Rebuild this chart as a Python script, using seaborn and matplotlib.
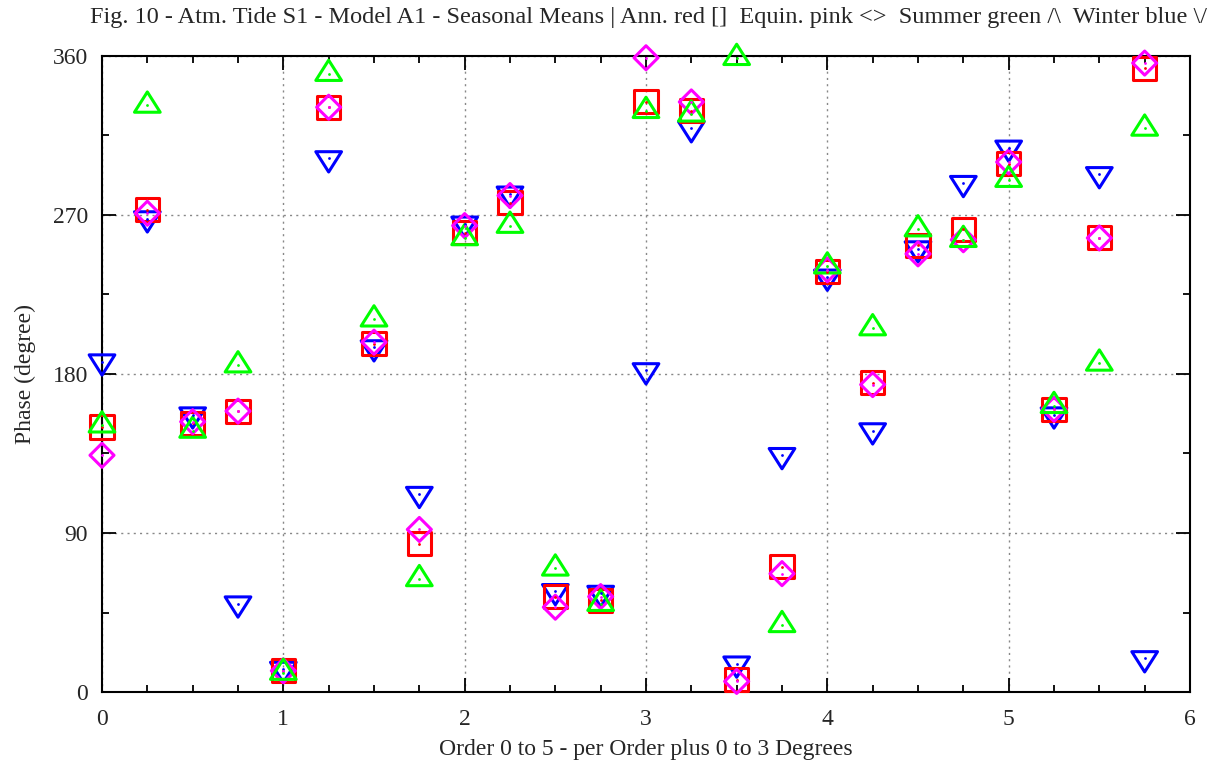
import numpy as np
import pandas as pd
import seaborn as sns
import matplotlib
matplotlib.use('Agg')
import matplotlib.pyplot as plt
from matplotlib.path import Path
from matplotlib.ticker import MultipleLocator

# x position = order + degree/4
order_pos = [0, 0.25, 0.5, 0.75, 1, 1.25, 1.5, 1.75, 2, 2.25, 2.5, 2.75,
             3, 3.25, 3.5, 3.75, 4, 4.25, 4.5, 4.75, 5, 5.25, 5.5, 5.75]

# phases (degree)
ann = [150, 273, 152, 159, 12, 331, 197, 84, 260, 277, 54, 52,
       334, 329, 7, 71, 238, 175, 253, 262, 299, 160, 257, 353]
equin = [134, 271, 153, 159, 12, 331, 198, 92, 264, 281, 48, 54,
         359, 334, 6, 67, 239, 174, 248, 256, 300, 160, 257, 356]
summer = [151, 332, 148, 185, 11, 350, 211, 64, 257, 264, 70, 50,
          329, 327, 359, 38, 241, 206, 262, 256, 290, 162, 186, 319]
winter = [187, 268, 157, 50, 13, 302, 195, 112, 265, 282, 57, 56,
          182, 319, 16, 134, 235, 148, 251, 288, 308, 157, 293, 19]

# gnuplot-like open markers, point sits on the dot
sq = Path([(-1, -1), (1, -1), (1, 1), (-1, 1), (-1, -1)], closed=True)
dia = Path([(0, 1), (1, 0), (0, -1), (-1, 0), (0, 1)], closed=True)
up = Path([(0, 1.0), (0.95, -0.5), (-0.95, -0.5), (0, 1.0)], closed=True)
down = Path([(0, -1.0), (0.95, 0.5), (-0.95, 0.5), (0, -1.0)], closed=True)

series = [('Winter', winter, '#0000ff', down, 380),
          ('Ann', ann, '#ff0000', sq, 275),
          ('Equin', equin, '#ff00ff', dia, 300),
          ('Summer', summer, '#00ff00', up, 380)]

sns.set_style('ticks')
plt.rcParams['font.family'] = ['Liberation Serif', 'DejaVu Serif']

fig = plt.figure(figsize=(12.16, 7.67), dpi=100)
ax = fig.add_axes([102 / 1216, 1 - 692 / 767, (1190 - 102) / 1216, (692 - 56) / 767])

for name, vals, col, mk, size in series:
    df = pd.DataFrame({'x': order_pos, 'y': vals})
    sns.scatterplot(data=df, x='x', y='y', marker=mk, s=size, facecolor='none',
                    edgecolor=col, linewidth=2.2, ax=ax, zorder=3, clip_on=False)
    sns.scatterplot(data=df, x='x', y='y', marker='o', s=4, color=col,
                    linewidth=0, ax=ax, zorder=4, clip_on=False)

ax.set_xlim(0, 6)
ax.set_ylim(0, 360)
ax.xaxis.set_major_locator(MultipleLocator(1))
ax.xaxis.set_minor_locator(MultipleLocator(0.25))
ax.yaxis.set_major_locator(MultipleLocator(90))
ax.yaxis.set_minor_locator(MultipleLocator(45))
ax.tick_params(which='both', direction='in', top=True, right=True, labelsize=17,
               width=1.3, color='black')
ax.tick_params(axis='x', pad=12)
ax.tick_params(axis='y', pad=10)
ax.tick_params(which='major', length=10)
ax.tick_params(which='minor', length=5)
ax.grid(which='major', linestyle=(0, (1.5, 3)), color='#888888', linewidth=1)
for sp in ax.spines.values():
    sp.set_linewidth(1.5)
    sp.set_color('black')

ax.set_xlabel('Order 0 to 5 - per Order plus 0 to 3 Degrees', fontsize=17, labelpad=7)
ax.set_ylabel('Phase (degree)', fontsize=17, labelpad=12)
fig.text(648 / 1216, 1 - 18 / 767,
         'Fig. 10 - Atm. Tide S1 - Model A1 - Seasonal Means | Ann. red []  Equin. pink <>  '
         'Summer green /\\  Winter blue \\/',
         ha='center', va='center', fontsize=17.5)

fig.savefig('out.png', dpi=100)
